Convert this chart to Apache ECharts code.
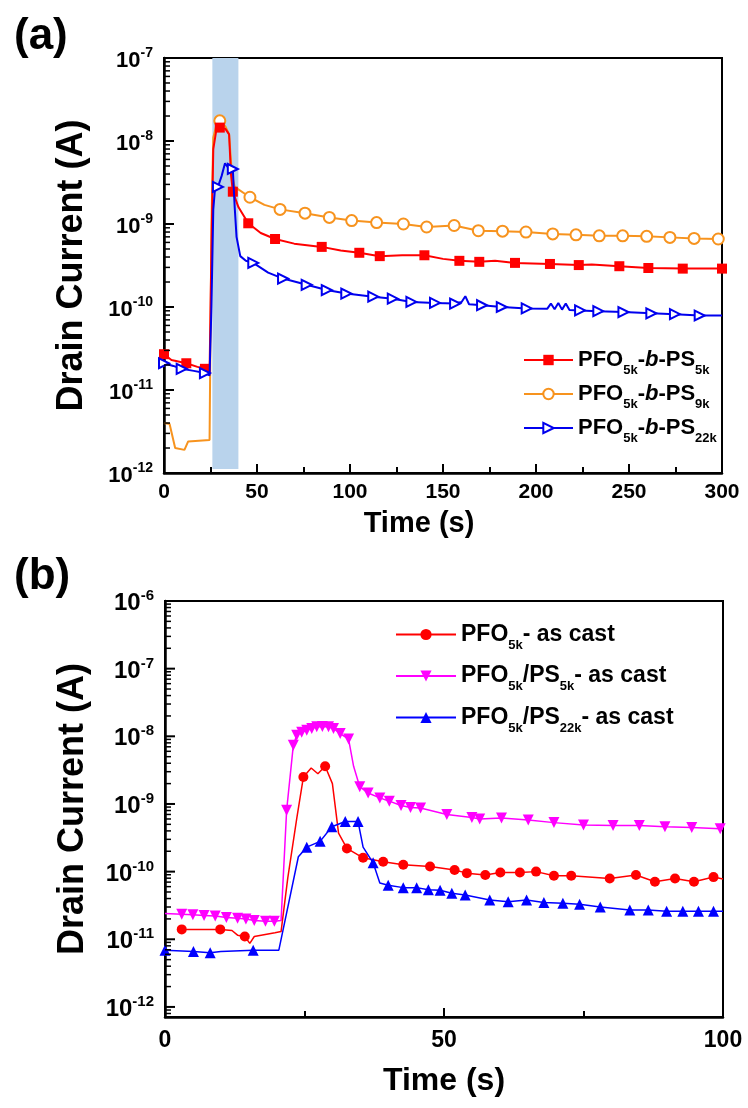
<!DOCTYPE html>
<html>
<head>
<meta charset="utf-8">
<script src="https://cdn.jsdelivr.net/npm/echarts@6/dist/echarts.min.js"></script>
<style>
  html, body { margin: 0; padding: 0; background: #fff; }
  #chart { width: 748px; height: 1108px; }
</style>
</head>
<body>
<div id="chart"></div>
<script>
// ---- (a) block copolymers, 0-300 s ----
const redT = [0, 4, 12, 18, 22, 24.5, 25.5, 26.5, 28, 30, 33, 35, 36, 37, 40, 45.3, 52, 59.7, 70, 84.8, 95, 105, 116, 128, 140, 150, 158.8, 169.5, 178, 188.7, 207.5, 223, 230, 244.8, 260.4, 278.9, 300]
const redI = [2.7e-11, 2.3e-11, 2.1e-11, 1.9e-11, 1.8e-11, 1.6e-11, 5e-10, 8e-9, 1.3e-8, 1.45e-8, 1.4e-8, 1.2e-8, 4e-9, 2.45e-9, 1.6e-9, 1.02e-9, 7.8e-10, 6.6e-10, 5.8e-10, 5.3e-10, 4.8e-10, 4.5e-10, 4.1e-10, 4.2e-10, 4.2e-10, 3.8e-10, 3.6e-10, 3.5e-10, 3.6e-10, 3.4e-10, 3.3e-10, 3.2e-10, 3.25e-10, 3.1e-10, 2.95e-10, 2.9e-10, 2.9e-10]
const redM = [1, 0, 1, 0, 1, 0, 0, 0, 0, 1, 0, 0, 0, 1, 0, 1, 0, 1, 0, 1, 0, 1, 1, 0, 1, 0, 1, 1, 0, 1, 1, 1, 0, 1, 1, 1, 1]

const orangeT = [0, 3, 6, 7, 11, 13, 24.5, 25.5, 26.5, 28, 30, 33, 35, 36.5, 38, 46.2, 54, 62.4, 75.8, 88.9, 100.9, 114.3, 128.7, 141.2, 156, 169, 182, 194.6, 209, 221.5, 234, 246.6, 259.5, 272, 285, 298, 300]
const orangeI = [4.0e-12, 3.9e-12, 2.0e-12, 1.9e-12, 1.9e-12, 2.4e-12, 2.5e-12, 1e-9, 1.1e-8, 1.5e-8, 1.75e-8, 1.5e-8, 1.2e-8, 4e-9, 2.8e-9, 2.1e-9, 1.7e-9, 1.5e-9, 1.35e-9, 1.2e-9, 1.1e-9, 1.04e-9, 1.0e-9, 9.2e-10, 9.6e-10, 8.3e-10, 8.2e-10, 8.0e-10, 7.6e-10, 7.4e-10, 7.2e-10, 7.2e-10, 7.1e-10, 6.9e-10, 6.7e-10, 6.6e-10, 6.6e-10]
const orangeM = [0, 0, 0, 0, 0, 0, 0, 0, 0, 0, 1, 0, 0, 0, 0, 1, 0, 1, 1, 1, 1, 1, 1, 1, 1, 1, 1, 1, 1, 1, 1, 1, 1, 1, 1, 1, 0]

const blueT = [0, 5, 9.5, 16, 22, 24.5, 25.5, 26.5, 27.5, 29, 31, 32.8, 35, 37, 38, 39, 41, 44, 48, 56, 64, 76.7, 87.5, 98, 112.5, 123, 133, 145.7, 156.5, 160, 162, 164, 171, 181.6, 195, 206, 208, 210, 212, 214, 216, 218, 223.7, 233.5, 247, 262, 274.7, 288, 300]
const blueI = [2.1e-11, 1.95e-11, 1.8e-11, 1.7e-11, 1.6e-11, 1.5e-11, 1e-10, 1.5e-9, 2.8e-9, 2.8e-9, 3.8e-9, 5.4e-9, 4.6e-9, 4.6e-9, 1.6e-9, 7e-10, 4.1e-10, 3.6e-10, 3.4e-10, 2.6e-10, 2.2e-10, 1.85e-10, 1.6e-10, 1.45e-10, 1.33e-10, 1.26e-10, 1.15e-10, 1.12e-10, 1.1e-10, 1.15e-10, 1.35e-10, 1.08e-10, 1.05e-10, 1.0e-10, 9.6e-11, 9.5e-11, 1.1e-10, 9.4e-11, 1.12e-10, 9.3e-11, 1.1e-10, 9.2e-11, 9.1e-11, 8.9e-11, 8.7e-11, 8.4e-11, 8.2e-11, 7.9e-11, 7.9e-11]
const blueM = [1, 0, 1, 0, 1, 0, 0, 0, 0, 1, 0, 0, 0, 1, 0, 0, 0, 0, 1, 0, 1, 1, 1, 1, 1, 1, 1, 1, 1, 0, 0, 0, 1, 1, 1, 0, 0, 0, 0, 0, 0, 0, 1, 1, 1, 1, 1, 1, 0]

// ---- (b) blends as cast, 0-100 s ----
const pfoT = [3, 6, 9.9, 12, 13, 14.3, 15.2, 16, 19.7, 20.8, 22, 23.6, 24.8, 26.2, 27.4, 28.7, 30, 31.1, 32.6, 35.5, 39.1, 42.7, 47.5, 51.9, 54.1, 57.4, 60.1, 63.6, 66.5, 69.7, 72.8, 79.7, 84.4, 87.8, 91.4, 94.8, 98.3, 100]
const pfoI = [1.4e-11, 1.4e-11, 1.4e-11, 1.35e-11, 1.15e-11, 1.1e-11, 8.7e-12, 1.1e-11, 1.25e-11, 1.3e-11, 8e-11, 6e-10, 2.5e-9, 3.4e-9, 2.8e-9, 3.6e-9, 2.0e-9, 3.7e-10, 2.2e-10, 1.6e-10, 1.4e-10, 1.26e-10, 1.19e-10, 1.06e-10, 9.5e-11, 8.9e-11, 9.7e-11, 9.7e-11, 1.0e-10, 8.7e-11, 8.7e-11, 7.9e-11, 8.9e-11, 7.1e-11, 7.9e-11, 7.1e-11, 8.3e-11, 7.8e-11]
const pfoM = [1, 0, 1, 0, 0, 1, 0, 0, 0, 0, 0, 0, 1, 0, 0, 1, 0, 0, 1, 1, 1, 1, 1, 1, 1, 1, 1, 1, 1, 1, 1, 1, 1, 1, 1, 1, 1, 0]

const ps5T = [0, 3, 5, 7, 9, 11, 13, 14.5, 16, 18, 19.6, 20.8, 21.8, 23, 23.6, 24.5, 25.4, 26.3, 27.2, 28.2, 29.3, 30.2, 31.4, 32.9, 33.8, 34.9, 36.4, 38.5, 40.2, 42.3, 44, 45.8, 50.5, 55, 56.4, 60.3, 65.1, 69.7, 75, 80.3, 85, 89.6, 94.4, 99.5, 100]
const ps5I = [2.4e-11, 2.35e-11, 2.3e-11, 2.25e-11, 2.2e-11, 2.1e-11, 2.05e-11, 2.0e-11, 1.9e-11, 1.85e-11, 1.85e-11, 1.9e-11, 8.1e-10, 7.4e-9, 1.04e-8, 1.15e-8, 1.23e-8, 1.3e-8, 1.38e-8, 1.4e-8, 1.38e-8, 1.3e-8, 1.1e-8, 9.1e-9, 3.6e-9, 1.8e-9, 1.45e-9, 1.23e-9, 1.1e-9, 9.5e-10, 8.9e-10, 8.7e-10, 7.0e-10, 6.3e-10, 6.0e-10, 6.2e-10, 5.8e-10, 5.3e-10, 4.9e-10, 4.8e-10, 4.8e-10, 4.6e-10, 4.5e-10, 4.3e-10, 4.3e-10]
const ps5M = [0, 1, 1, 1, 1, 1, 1, 1, 1, 1, 1, 0, 1, 1, 1, 1, 1, 1, 1, 1, 1, 1, 1, 1, 0, 1, 1, 1, 1, 1, 1, 1, 1, 1, 1, 1, 1, 1, 1, 1, 1, 1, 1, 1, 0]

const ps22T = [0, 5.1, 8.1, 10, 15.8, 20.4, 23.9, 25.4, 27.8, 29.9, 32.3, 34.6, 35.5, 37.3, 38.5, 40, 42.7, 45.1, 47.2, 49.3, 51.4, 53.8, 58.2, 61.5, 64.8, 67.9, 71.3, 74.3, 78, 83.3, 86.6, 89.9, 92.8, 95.6, 98.3, 100]
const ps22I = [6.9e-12, 6.6e-12, 6.3e-12, 6.6e-12, 6.9e-12, 6.9e-12, 1.66e-10, 2.3e-10, 2.8e-10, 4.6e-10, 5.5e-10, 5.5e-10, 2.3e-10, 1.35e-10, 6.8e-11, 6.3e-11, 5.8e-11, 5.8e-11, 5.4e-11, 5.3e-11, 4.8e-11, 4.5e-11, 3.8e-11, 3.6e-11, 3.8e-11, 3.5e-11, 3.4e-11, 3.3e-11, 3.0e-11, 2.7e-11, 2.7e-11, 2.6e-11, 2.6e-11, 2.6e-11, 2.6e-11, 2.6e-11]
const ps22M = [1, 1, 1, 0, 1, 0, 0, 1, 1, 1, 1, 1, 0, 1, 0, 1, 1, 1, 1, 1, 1, 1, 1, 1, 1, 1, 1, 1, 1, 1, 1, 1, 1, 1, 1, 0]

// light-blue illumination window in (a)
const lightOn = [26, 40]

// y ranges (A) and decade exponents for tick labels
const yRangeA = [1e-12, 1e-7]
const yRangeB = [7.1e-13, 1e-6]
const expA = [-12, -11, -10, -9, -8, -7]
const expB = [-12, -11, -10, -9, -8, -7, -6]

const FONT = '"Liberation Sans", Arial, sans-serif'

function toData(T, I, M) {
  return T.map((t, i) => (M[i] ? [t, I[i]] : { value: [t, I[i]], symbol: 'none' }))
}

// log tick values k*10^e inside the range; major = decades only
function logTicks(range, major) {
  const out = []
  const lo = Math.floor(Math.log10(range[0]))
  const hi = Math.ceil(Math.log10(range[1]))
  for (let e = lo; e <= hi; e++) {
    for (let k = 1; k <= 9; k++) {
      if ((k === 1) !== major) continue
      const v = k * Math.pow(10, e)
      if (v >= range[0] * 0.999 && v <= range[1] * 1.001) out.push([0, v])
    }
  }
  return out
}

function yLabelRich(b, s) {
  return {
    b: { fontSize: b, fontWeight: 'bold', fontFamily: FONT, color: '#000', lineHeight: b + 6 },
    s: { fontSize: s, fontWeight: 'bold', fontFamily: FONT, color: '#000', lineHeight: s, verticalAlign: 'top' }
  }
}

const legendText = {
  'PFO5k-b-PS5k': '{n|PFO}{s|5k}{n|-}{i|b}{n|-PS}{s|5k}',
  'PFO5k-b-PS9k': '{n|PFO}{s|5k}{n|-}{i|b}{n|-PS}{s|9k}',
  'PFO5k-b-PS22k': '{n|PFO}{s|5k}{n|-}{i|b}{n|-PS}{s|22k}',
  'PFO5k- as cast': '{n|PFO}{s|5k}{n|- as cast}',
  'PFO5k/PS5k- as cast': '{n|PFO}{s|5k}{n|/PS}{s|5k}{n|- as cast}',
  'PFO5k/PS22k- as cast': '{n|PFO}{s|5k}{n|/PS}{s|22k}{n|- as cast}'
}

function legendRich(size) {
  return {
    n: { fontSize: size, fontWeight: 'bold', fontFamily: FONT, color: '#000', lineHeight: 34 },
    i: { fontSize: size, fontWeight: 'bold', fontStyle: 'italic', fontFamily: FONT, color: '#000', lineHeight: 34 },
    s: { fontSize: 13, fontWeight: 'bold', fontFamily: FONT, color: '#000', lineHeight: 13, verticalAlign: 'bottom' }
  }
}

function xAxisOf(grid, max, fontSize, name, nameSize, nameGap, namePad, labelMargin) {
  return {
    gridIndex: grid, type: 'value', min: 0, max: max, interval: 50,
    axisLine: { show: true, onZero: false, lineStyle: { color: '#000', width: 2.5 } },
    axisTick: { show: true, inside: true, length: 9, lineStyle: { color: '#000', width: 2 } },
    minorTick: { show: true, splitNumber: 2, length: 6, lineStyle: { color: '#000', width: 2 } },
    axisLabel: { color: '#000', fontSize: fontSize, fontWeight: 'bold', fontFamily: FONT, margin: labelMargin },
    splitLine: { show: false },
    name: name, nameLocation: 'middle', nameGap: nameGap,
    nameTextStyle: { color: '#000', fontSize: nameSize, fontWeight: 'bold', fontFamily: FONT, padding: namePad }
  }
}

// log axis that places the data (ticks come from the tick series)
function yLog(grid, range) {
  return {
    gridIndex: grid, type: 'log', logBase: 10, min: range[0], max: range[1], position: 'left',
    axisLine: { show: false }, axisTick: { show: false }, axisLabel: { show: false },
    splitLine: { show: false }, minorTick: { show: false }
  }
}

// overlay in exponent space: axis line, 10^n labels, title
function yDecades(grid, range, exps, b, s) {
  return {
    gridIndex: grid, type: 'value', min: Math.log10(range[0]), max: Math.log10(range[1]), position: 'left',
    axisLine: { show: true, onZero: false, lineStyle: { color: '#000', width: 2.5 } },
    axisTick: { show: false },
    axisLabel: {
      customValues: exps, formatter: v => '{b|10}{s|' + Math.round(v) + '}',
      margin: 11, padding: [5, 0, 0, 0], rich: yLabelRich(b, s)
    },
    splitLine: { show: false },
    name: 'Drain Current (A)', nameLocation: 'middle', nameGap: 74,
    nameTextStyle: { color: '#000', fontSize: 36, fontWeight: 'bold', fontFamily: FONT }
  }
}

// inward y ticks drawn as thin rects on the log axis
function tickSeries(xi, yi, range, major) {
  const len = major ? 10 : 6
  return {
    type: 'scatter', xAxisIndex: xi, yAxisIndex: yi, silent: true, clip: false, z: 10,
    symbol: 'rect', symbolSize: [len, major ? 2 : 1.5], symbolOffset: [len / 2, 0],
    itemStyle: { color: '#000', opacity: 1 },
    data: logTicks(range, major), tooltip: { show: false }
  }
}

const chart = echarts.init(document.getElementById('chart'), null, { renderer: 'canvas' })

chart.setOption({
  animation: false,
  backgroundColor: '#fff',
  grid: [
    { left: 164, top: 58, width: 558, height: 415, show: true, borderColor: '#000', borderWidth: 2, backgroundColor: 'transparent' },
    { left: 165, top: 601, width: 558, height: 416, show: true, borderColor: '#000', borderWidth: 2, backgroundColor: 'transparent' }
  ],
  graphic: [
    { type: 'text', left: 14, top: 15, style: { text: '(a)', fontSize: 44, fontWeight: 'bold', fontFamily: FONT, fill: '#000' } },
    { type: 'text', left: 14, top: 555, style: { text: '(b)', fontSize: 44, fontWeight: 'bold', fontFamily: FONT, fill: '#000' } }
  ],
  xAxis: [
    xAxisOf(0, 300, 21, 'Time (s)', 29, 36, [0, 48, 0, 0], 9),
    xAxisOf(1, 100, 23, 'Time (s)', 32, 48, [0, 0, 0, 0], 12)
  ],
  yAxis: [
    yLog(0, yRangeA),
    yDecades(0, yRangeA, expA, 22, 14),
    yLog(1, yRangeB),
    yDecades(1, yRangeB, expB, 24, 15)
  ],
  legend: [
    {
      data: ['PFO5k-b-PS5k', 'PFO5k-b-PS9k', 'PFO5k-b-PS22k'],
      orient: 'vertical', left: 523, top: 349, padding: 0, itemWidth: 49, itemHeight: 13, itemGap: 6,
      selectedMode: false, formatter: n => legendText[n],
      textStyle: { rich: legendRich(22) }
    },
    {
      data: ['PFO5k- as cast', 'PFO5k/PS5k- as cast', 'PFO5k/PS22k- as cast'],
      orient: 'vertical', left: 395, top: 623, padding: 0, itemWidth: 60, itemHeight: 14, itemGap: 13,
      selectedMode: false, formatter: n => legendText[n],
      textStyle: { rich: legendRich(23) }
    }
  ],
  series: [
    {
      name: 'PFO5k-b-PS5k', type: 'line', xAxisIndex: 0, yAxisIndex: 0,
      data: toData(redT, redI, redM),
      symbol: 'rect', symbolSize: 10,
      lineStyle: { color: '#ff0000', width: 2 }, itemStyle: { color: '#ff0000' },
      markArea: {
        silent: true,
        itemStyle: { color: '#b9d3ec' },
        data: [[{ xAxis: lightOn[0], yAxis: 1.12e-12 }, { xAxis: lightOn[1], yAxis: 1e-7 }]]
      },
      z: 3
    },
    {
      name: 'PFO5k-b-PS9k', type: 'line', xAxisIndex: 0, yAxisIndex: 0,
      data: toData(orangeT, orangeI, orangeM),
      symbol: 'emptyCircle', symbolSize: 11,
      lineStyle: { color: '#f7931e', width: 2 }, itemStyle: { color: '#f7931e', borderWidth: 1.5 },
      z: 2
    },
    {
      name: 'PFO5k-b-PS22k', type: 'line', xAxisIndex: 0, yAxisIndex: 0,
      data: toData(blueT, blueI, blueM),
      symbol: 'emptyTriangle', symbolRotate: -90, symbolSize: 10,
      lineStyle: { color: '#0000ee', width: 2 }, itemStyle: { color: '#0000ee', borderWidth: 2 },
      z: 4
    },
    {
      name: 'PFO5k- as cast', type: 'line', xAxisIndex: 1, yAxisIndex: 2,
      data: toData(pfoT, pfoI, pfoM),
      symbol: 'circle', symbolSize: 10,
      lineStyle: { color: '#ff0000', width: 1.5 }, itemStyle: { color: '#ff0000' },
      z: 4
    },
    {
      name: 'PFO5k/PS5k- as cast', type: 'line', xAxisIndex: 1, yAxisIndex: 2,
      data: toData(ps5T, ps5I, ps5M),
      symbol: 'triangle', symbolRotate: 180, symbolSize: 11,
      lineStyle: { color: '#ff00ff', width: 1.5 }, itemStyle: { color: '#ff00ff' },
      z: 3
    },
    {
      name: 'PFO5k/PS22k- as cast', type: 'line', xAxisIndex: 1, yAxisIndex: 2,
      data: toData(ps22T, ps22I, ps22M),
      symbol: 'triangle', symbolSize: 11,
      lineStyle: { color: '#0000ff', width: 1.5 }, itemStyle: { color: '#0000ff' },
      z: 5
    },
    tickSeries(0, 0, yRangeA, true),
    tickSeries(0, 0, yRangeA, false),
    tickSeries(1, 2, yRangeB, true),
    tickSeries(1, 2, yRangeB, false)
  ]
})
</script>
</body>
</html>
